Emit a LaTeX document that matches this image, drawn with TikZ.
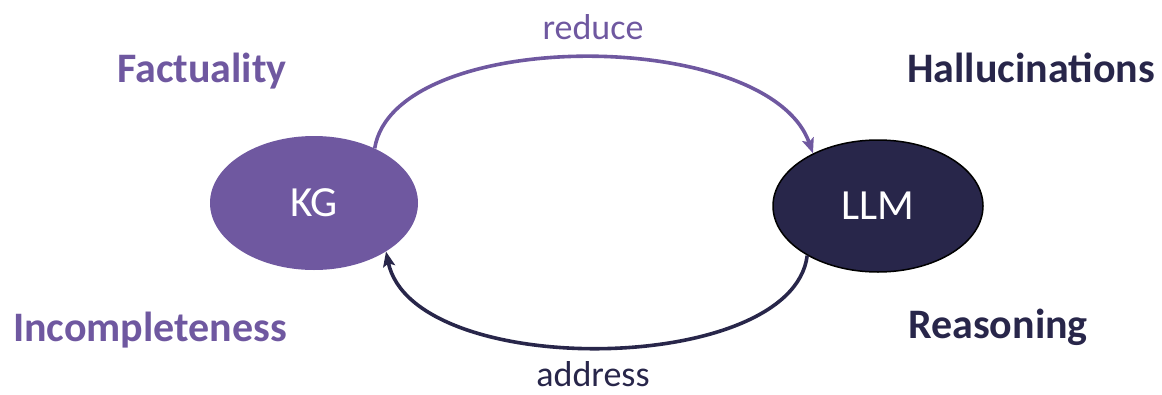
\documentclass[tikz,border=0pt]{standalone}
\usepackage{fontspec}
\setmainfont{Carlito}
\usetikzlibrary{arrows.meta,shapes.geometric}
\definecolor{kgpurple}{HTML}{6F58A0}
\definecolor{llmnavy}{HTML}{28264A}
\tikzset{
  blob/.style={ellipse, minimum width=208pt, minimum height=134pt, inner sep=0pt,
    text=white, font=\fontsize{43}{50}\selectfont},
  side/.style={anchor=base, font=\bfseries\fontsize{42}{50}\selectfont},
  edgelabel/.style={anchor=base, text depth=0pt, inner ysep=1pt, font=\fontsize{36}{42}\selectfont},
  link/.style={line width=3.6pt, -{Stealth[length=15pt,width=12pt,inset=3pt]}}
}
\begin{document}
\begin{tikzpicture}[x=1pt,y=-1pt]
\path[use as bounding box] (0,0) rectangle (1162,394);
\node[blob, fill=kgpurple] (kg) at (314,203) {KG};
\node[blob, fill=llmnavy, draw=black, line width=1.5pt, minimum width=210pt, minimum height=132pt] (llm) at (878,206) {LLM};
\draw[link, kgpurple] (kg.42) .. controls +(20,-122) and +(-45,-127) .. (llm.141);
\draw[link, llmnavy] (llm.215) .. controls +(-15,121) and +(27,129) .. (kg.326);
\node[edgelabel, text=kgpurple] (reduce) at (593,39) {reduce};
\node[edgelabel, text=llmnavy] (address) at (593,386) {address};
\node[side, text=kgpurple] (fact) at (202,82) {Factuality};
\node[side, text=kgpurple] (incomp) at (150,341) {Incompleteness};
\node[side, text=llmnavy] (hall) at (1031,82) {Hallucinations};
\node[side, text=llmnavy] (reas) at (998,338) {Reasoning};
\end{tikzpicture}
\end{document}
